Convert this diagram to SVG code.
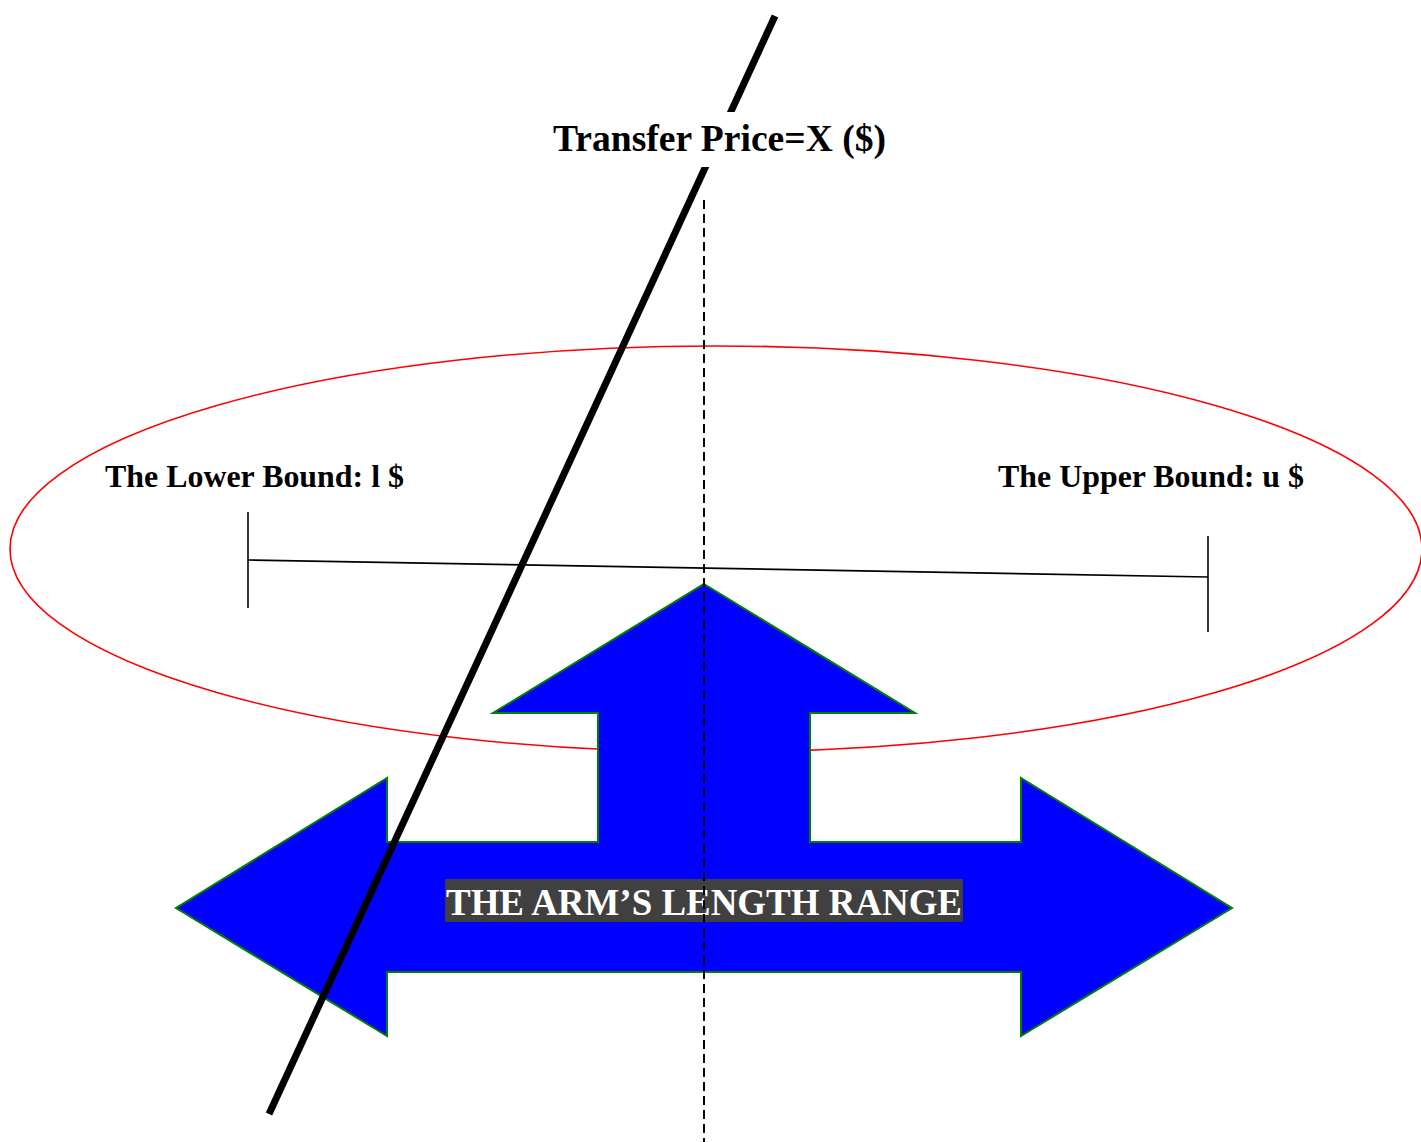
<svg xmlns="http://www.w3.org/2000/svg" width="1421" height="1142" viewBox="0 0 1421 1142">
<style>
.lbl{font-family:"Liberation Serif","Times New Roman",serif;font-weight:bold;fill:#000}
.arm{font-family:"Liberation Serif","Times New Roman",serif;font-weight:bold;fill:#fff}
</style>
<rect width="1421" height="1142" fill="#fff"/>
<g id="range-ellipse">
<ellipse cx="716" cy="549" rx="706" ry="203" fill="none" stroke="#ff0000" stroke-width="1.6"/>
</g>
<g id="bound-line">
<line x1="248" y1="560" x2="1208" y2="577" stroke="#000" stroke-width="1.6"/>
<line x1="248" y1="512" x2="248" y2="608" stroke="#000" stroke-width="1.6"/>
<line x1="1208" y1="536" x2="1208" y2="632" stroke="#000" stroke-width="1.6"/>
</g>
<g id="lower-label">
<text class="lbl" x="105" y="487" font-size="31" textLength="299" lengthAdjust="spacingAndGlyphs">The Lower Bound: l $</text>
</g>
<g id="upper-label">
<text class="lbl" x="998" y="487" font-size="31" textLength="306" lengthAdjust="spacingAndGlyphs">The Upper Bound: u $</text>
</g>
<g id="arm-arrow">
<polygon points="704,584 915,713 810,713 810,842 1021,842 1021,778 1232,908 1021,1036 1021,972 387,972 387,1036 176,908 387,778 387,842 598,842 598,713 493,713" fill="#0000ff" stroke="#008000" stroke-width="2"/>
<rect x="445" y="879" width="518" height="43" fill="#404040"/>
<text class="arm" x="446" y="915" font-size="38" textLength="516" lengthAdjust="spacingAndGlyphs">THE ARM’S LENGTH RANGE</text>
</g>
<g id="connectors">
<line x1="704" y1="200" x2="704" y2="1142" stroke="#000" stroke-width="2" stroke-dasharray="9,5"/>
<line x1="775" y1="16" x2="269" y2="1114" stroke="#000" stroke-width="7"/>
</g>
<g id="transfer-label">
<rect x="553" y="112" width="333" height="55" fill="#fff"/>
<text class="lbl" x="553" y="151" font-size="38" textLength="333" lengthAdjust="spacingAndGlyphs">Transfer Price=X ($)</text>
</g>
</svg>
